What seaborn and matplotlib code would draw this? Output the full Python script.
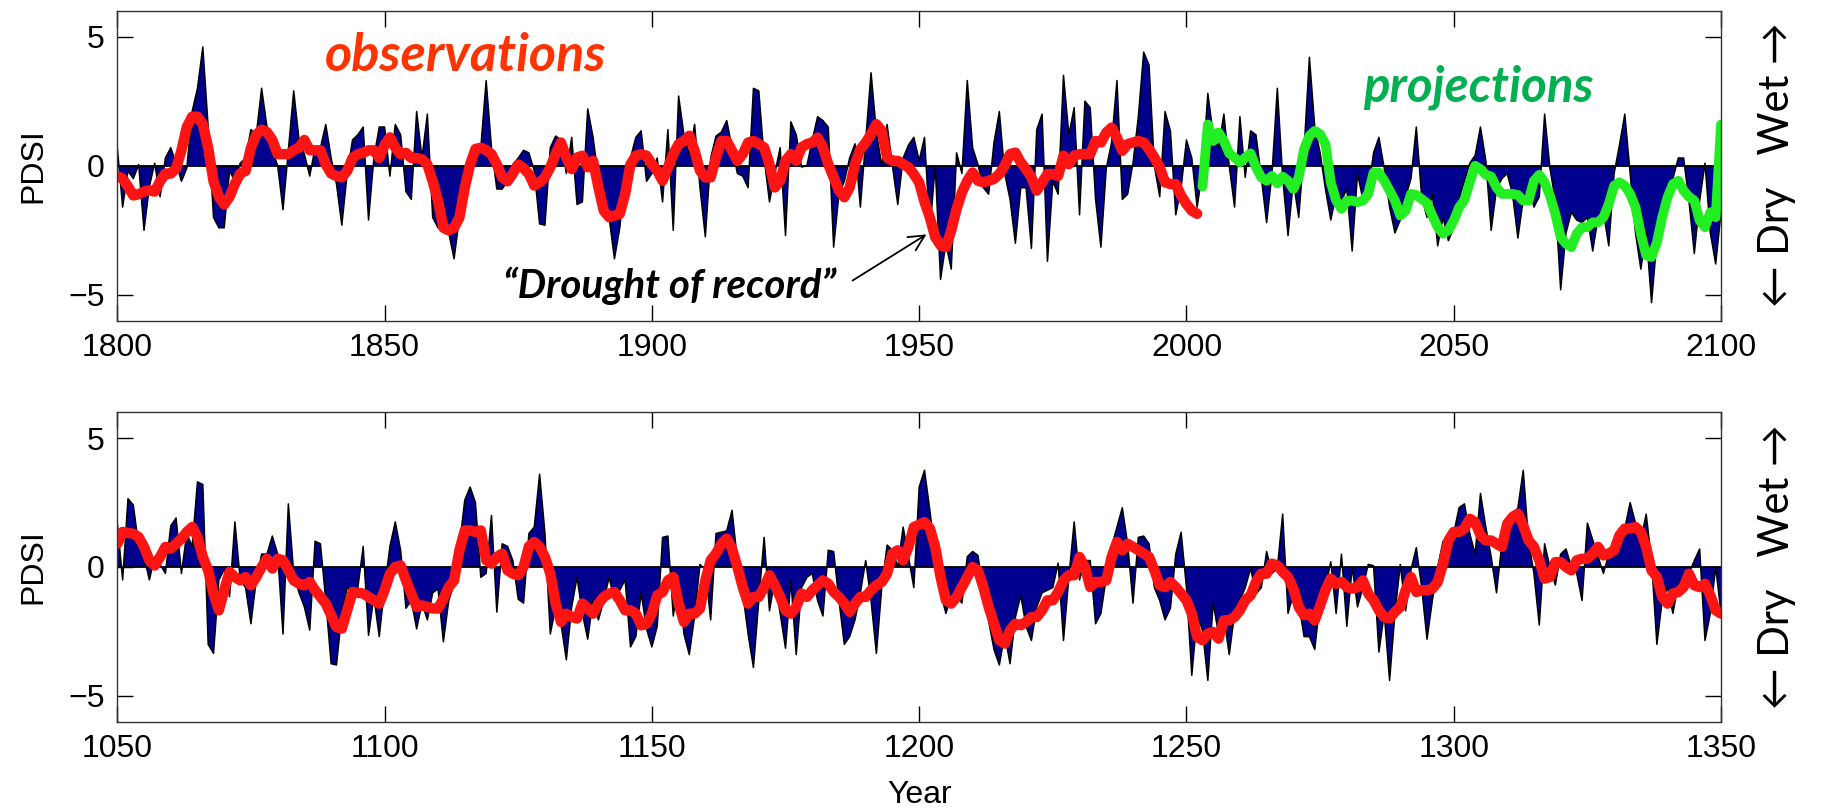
import matplotlib
matplotlib.use('Agg')
import matplotlib.pyplot as plt
import seaborn as sns
import numpy as np
import pandas as pd

# PDSI anual 1800-2100 (observado + projetado)
pdsi_recent = [
    0.7, -1.6, -0.2, -0.5, 0.05, -2.5, -0.8, 0.1, -1.2, 0.3,
    0.7, 0.1, -0.6, -0.1, 2.1, 3.0, 4.6, 1.5, -2.0, -2.4,
    -2.4, -0.2, -0.6, 0.1, 0.3, 1.4, 1.2, 3.0, 1.5, 0.6,
    0.0, -1.7, 0.6, 2.9, 1.0, 0.45, -0.4, 0.7, 0.7, 1.6,
    0.3, -0.7, -2.3, -0.3, 1.0, 1.2, 1.5, -2.1, 0.3, 1.5,
    1.5, -0.4, 1.6, 1.2, -1.0, -1.3, 2.1, 0.3, 2.0, -2.0,
    -2.4, -2.5, -2.6, -3.6, -2.0, -1.2, -0.2, 0.7, 0.7, 3.3,
    0.7, -0.9, -0.9, -0.6, 0.05, 0.3, 0.6, 0.5, -0.2, -2.25,
    -2.3, 0.7, 1.15, 1.0, -0.3, 1.1, -1.5, -1.4, 2.2, 1.1,
    -0.45, -1.2, -2.0, -3.6, -2.4, -0.3, 0.3, 1.1, 1.35, -0.6,
    -0.3, 0.3, -1.4, 1.4, -2.5, 2.7, 1.2, 0.45, 1.6, -0.85,
    -2.75, 0.3, 1.15, 1.3, 1.75, 0.7, -0.3, -0.4, -0.85, 3.0,
    2.9, 0.3, -1.4, -0.3, 0.7, -2.7, 1.7, 1.2, -0.05, 0.0,
    1.0, 1.9, 1.75, 1.5, -3.15, -1.1, -0.6, 0.3, 0.85, -1.6,
    1.0, 3.6, 1.3, 0.0, 1.6, 0.0, -1.5, 0.3, 0.8, 1.1,
    0.2, 1.1, -2.5, 0.0, -4.4, -3.0, -4.0, 0.5, -0.3, 3.3,
    0.7, 0.05, -0.85, -1.1, 0.9, 2.1, -0.3, -1.3, -3.0, -0.85,
    -0.85, -3.2, 1.4, 2.0, -3.7, -0.6, -1.1, 3.5, 1.2, 2.25,
    -1.9, 2.5, 2.25, -1.3, -3.15, -0.1, 0.9, 3.3, -1.3, -1.1,
    0.1, 1.9, 4.4, 3.9, 0.0, -1.2, 2.1, 1.35, -1.9, -0.85,
    1.0, 0.3, -1.6, -0.2, 2.8, 1.2, 0.7, 2.0, 0.0, -1.6,
    1.9, -0.45, 1.35, 1.2, -0.45, -2.2, -0.3, 3.0, -0.45, -2.7,
    -0.6, -2.0, 0.6, 4.2, 1.5, 0.5, -0.9, -2.1, -1.1, -1.35,
    -0.9, -3.3, -0.3, -1.3, -1.0, 0.5, 1.1, -0.1, -1.6, -2.6,
    -2.1, -1.2, -0.5, 1.5, -1.2, -2.0, -1.1, -3.1, -2.0, -2.9,
    -2.4, -1.3, -0.6, 0.1, 0.4, 1.5, 0.2, -2.5, -0.9, -0.5,
    -0.3, -1.1, -2.8, -1.3, -0.8, -1.6, -1.2, 2.0, -0.1, -1.35,
    -4.8, -2.6, -1.8, -2.1, -2.2, -2.0, -3.3, -2.0, -1.8, -3.1,
    -0.3, 0.8, 2.0, -0.3, -2.6, -4.0, -2.6, -5.3, -2.9, -1.9,
    -1.1, -0.5, 0.3, 0.3, -1.35, -3.4, -1.35, 0.1, -2.6, -3.8,
    -1.8,
]

# curva suavizada das observacoes 1800-2002
smooth_obs = [
    -0.4, -0.5, -0.8, -1.15, -1.1, -1.0, -0.95, -1.0, -0.6, -0.3,
    -0.3, -0.1, 0.6, 1.5, 1.9, 1.9, 1.6, 0.7, -0.6, -1.2,
    -1.5, -1.2, -0.7, -0.3, -0.2, 0.7, 1.2, 1.4, 1.3, 1.0,
    0.45, 0.45, 0.45, 0.6, 0.7, 1.0, 0.6, 0.6, 0.6, 0.05,
    -0.3, -0.4, -0.45, -0.2, 0.3, 0.45, 0.5, 0.6, 0.6, 0.3,
    0.8, 1.1, 0.7, 0.45, 0.5, 0.3, 0.3, 0.25, 0.05, -0.6,
    -1.35, -2.4, -2.5, -2.4, -2.0, -0.85, 0.05, 0.65, 0.7, 0.6,
    0.45, 0.05, -0.45, -0.6, -0.3, 0.05, -0.1, -0.32, -0.77, -0.64,
    -0.45, -0.06, 0.45, 0.9, 0.32, -0.13, 0.32, 0.39, -0.06, 0.19,
    -0.84, -1.74, -1.99, -1.93, -1.86, -1.09, 0.06, 0.39, 0.45, 0.39,
    0.06, -0.19, -0.58, -0.06, 0.45, 0.84, 0.96, 1.16, 0.58, -0.19,
    -0.45, -0.45, 0.32, 0.96, 0.96, 0.58, 0.19, 0.45, 0.9, 0.96,
    0.84, 0.71, 0.06, -0.84, -0.58, 0.19, 0.45, 0.19, 0.71, 0.84,
    0.9, 1.09, 0.71, 0.06, -0.45, -0.96, -1.22, -0.84, 0.06, 0.64,
    0.9, 1.22, 1.61, 1.35, 0.32, 0.19, 0.19, 0.06, -0.06, -0.32,
    -0.65, -1.4, -2.0, -2.76, -3.08, -3.15, -2.5, -1.67, -1.03, -0.58,
    -0.26, -0.58, -0.64, -0.58, -0.51, -0.32, 0.0, 0.45, 0.51, 0.13,
    -0.13, -0.45, -0.96, -0.64, -0.32, -0.32, -0.39, 0.39, 0.06, 0.39,
    0.45, 0.45, 0.45, 0.96, 0.9, 1.29, 1.48, 1.09, 0.58, 0.84,
    0.9, 0.96, 0.9, 0.64, 0.32, -0.06, -0.64, -0.71, -0.71, -1.16,
    -1.48, -1.74, -1.86,
]

# curva suavizada das projecoes 2003-2100
smooth_proj = [
    -0.8, 1.6, 0.96, 1.29, 0.96, 0.48, 0.32,
    0.13, 0.32, 0.48, -0.06, -0.45, -0.58, -0.39, -0.68, -0.42, -0.58,
    -0.9, -0.45, 0.64, 1.16, 1.35, 1.22, 0.84, -0.64, -1.35, -1.67,
    -1.35, -1.35, -1.41, -1.35, -1.09, -0.26, -0.26, -0.58, -0.96, -1.35,
    -1.93, -1.74, -1.09, -1.13, -1.29, -1.45, -1.93, -2.38, -2.63, -2.5,
    -2.12, -1.61, -1.32, -0.64, 0.0, -0.13, -0.35, -0.42, -0.84, -1.09,
    -1.09, -1.09, -1.13, -1.35, -1.35, -0.58, -0.35, -0.64, -1.16, -1.86,
    -2.76, -3.02, -3.15, -2.63, -2.38, -2.38, -2.19, -2.19, -1.99, -1.48,
    -0.77, -0.64, -0.77, -1.09, -1.61, -2.63, -3.47, -3.53, -2.96, -1.99,
    -1.22, -0.71, -0.58, -0.96, -1.2, -1.35, -2.12, -2.38, -1.8, -1.99,
    1.6,
]

# PDSI anual 1050-1350 (reconstrucao)
pdsi_medieval = [
    1.7, -0.5, 2.65, 2.4, 0.8, 0.4, -0.5, 0.4, 0.1, -0.25,
    1.6, 1.9, -0.25, 1.3, 0.8, 3.3, 3.2, -3.0, -3.35, -0.5,
    -0.1, -1.15, 1.75, -0.5, -0.8, -2.2, -0.5, 0.5, 0.5, 1.2,
    0.5, -2.6, 2.45, -0.25, -1.0, -1.55, -2.45, 1.0, 0.9, -1.3,
    -3.75, -3.8, -1.8, -0.8, -1.0, -0.8, 0.8, -2.65, -1.15, -2.7,
    -0.8, 0.8, 1.75, 0.65, -1.6, -1.3, -2.4, -1.4, -2.05, -1.0,
    -0.85, -2.9, -1.3, -0.65, 0.8, 2.6, 3.1, 2.5, -0.4, -0.25,
    2.0, -1.75, 0.9, 0.8, 0.25, -1.25, -1.4, 1.3, 1.55, 3.6,
    1.3, -2.6, -1.55, -2.2, -3.6, -1.55, -0.4, -1.8, -2.8, -1.3,
    -2.05, -1.3, -0.4, -1.3, -0.9, -0.5, -3.1, -2.7, -1.0, -2.4,
    -3.1, -2.3, 1.15, 1.2, -1.9, -0.5, -2.6, -3.4, -1.9, 0.1,
    -0.1, -2.05, 1.3, 1.35, 1.4, 2.2, 0.25, -1.0, -2.6, -3.9,
    -1.3, 1.15, -1.7, -0.5, -1.8, -3.15, -0.5, -3.4, -0.8, -0.4,
    -0.25, -1.3, -1.9, 0.65, 0.6, -1.3, -3.0, -2.7, -2.05, -1.0,
    0.25, -1.3, -3.35, -0.8, 0.85, 0.65, 0.0, 1.55, 0.4, -0.8,
    3.1, 3.75, 2.2, 0.5, -1.0, -1.8, -1.15, -1.15, -1.4, 0.4,
    0.6, 0.45, -1.0, -2.1, -3.2, -3.8, -2.6, -3.75, -1.95, -1.1,
    -2.3, -2.85, -1.55, -1.0, -0.9, -0.8, 0.15, -2.85, -0.4, 1.75,
    -0.5, 0.25, 0.25, -2.2, -1.8, -0.4, 0.8, 1.55, 2.3, 0.9,
    -1.4, 1.15, 1.2, 0.9, -0.8, -1.3, -2.05, -1.6, 0.5, 1.35,
    -0.8, -4.2, -1.9, -2.45, -4.4, -1.4, -2.6, -1.95, -3.4, -1.8,
    -1.3, -0.8, -0.05, -1.05, -0.8, 0.6, -0.25, -0.05, 2.05, -1.8,
    -1.05, -1.4, -2.7, -2.7, -3.2, -1.3, -0.8, 0.2, -1.8, 0.5,
    -2.3, 0.0, -1.55, -0.8, 0.1, 0.05, -3.3, -1.8, -4.4, -1.8,
    0.1, -1.7, -0.1, 0.75, -0.8, -2.8, -1.3, 0.0, 1.0, 0.75,
    1.3, 2.3, 2.45, 1.3, 0.5, 2.85, 1.55, 0.4, -1.0, 0.9,
    1.8, 1.95, 2.3, 3.75, 1.0, -0.25, -2.25, 0.9, 0.0, -0.7,
    0.5, 0.7, 0.0, -0.25, -1.3, 1.7, 1.05, 0.4, -0.25, 0.5,
    0.65, 1.05, 1.5, 2.5, 1.7, 1.05, 2.05, 0.25, -3.0, -1.3,
    -0.8, -1.8, -0.65, -0.5, -0.25, 0.25, 0.7, -2.85, -1.8, 0.0,
    -1.8,
]

smooth_medieval = [
    0.9, 1.36, 1.32, 1.29, 1.16, 0.78, 0.26, 0.06, 0.39, 0.78,
    0.71, 0.9, 1.1, 1.36, 1.55, 1.16, 0.39, -0.13, -1.03, -1.68,
    -0.9, -0.19, -0.39, -0.52, -0.39, -0.71, -0.39, 0.0, 0.32, -0.06,
    0.32, 0.26, -0.13, -0.52, -0.65, -0.71, -0.58, -0.9, -1.16, -1.42,
    -1.87, -2.33, -2.39, -1.68, -0.97, -1.0, -1.03, -1.16, -1.29, -1.42,
    -0.9, -0.26, 0.0, 0.06, -0.52, -1.03, -1.55, -1.49, -1.55, -1.61,
    -1.61, -1.23, -0.78, -0.52, 0.65, 1.42, 1.42, 1.36, 1.42, 0.26,
    0.13, 0.39, 0.52, -0.13, -0.26, -0.32, 0.0, 0.8, 0.97, 0.78,
    0.39, -0.26, -1.42, -2.13, -1.81, -1.94, -2.0, -1.42, -1.61, -1.81,
    -1.42, -1.16, -1.03, -0.97, -1.29, -1.68, -1.68, -1.81, -2.26, -2.2,
    -1.81, -1.1, -0.97, -0.52, -0.39, -1.42, -2.13, -1.81, -1.81, -1.61,
    -0.52, 0.26, 0.52, 0.9, 1.1, 0.71, 0.0, -0.78, -1.42, -1.16,
    -1.16, -0.78, -0.32, -0.71, -1.16, -1.68, -1.81, -1.55, -1.03, -1.16,
    -0.9, -0.71, -0.52, -0.65, -0.97, -1.16, -1.42, -1.74, -1.42, -1.16,
    -1.16, -0.9, -0.71, -0.58, -0.26, 0.52, 0.65, 0.26, 0.78, 1.55,
    1.64, 1.74, 1.5, 0.78, -0.39, -1.29, -1.42, -1.16, -0.78, -0.39,
    0.0, -0.13, -0.78, -1.55, -2.2, -2.84, -2.97, -2.45, -2.2, -2.26,
    -2.13, -1.94, -1.94, -1.68, -1.29, -1.29, -0.97, -0.52, -0.32, -0.32,
    0.39, 0.0, -0.78, -0.58, -0.58, -0.52, 0.39, 0.97, 0.65, 0.9,
    0.78, 0.65, 0.52, 0.39, -0.13, -0.71, -0.78, -0.58, -0.78, -1.03,
    -1.29, -1.81, -2.71, -2.84, -2.58, -2.52, -2.78, -2.07, -2.07, -1.94,
    -1.68, -1.29, -1.1, -0.58, -0.26, -0.26, 0.13, 0.06, -0.19, -0.39,
    -0.84, -1.55, -1.87, -1.81, -2.07, -1.5, -0.9, -0.45, -0.65, -0.58,
    -0.78, -0.84, -0.78, -0.52, -1.03, -1.29, -1.68, -1.94, -2.0, -1.74,
    -1.55, -0.9, -0.39, -0.97, -0.9, -0.9, -0.84, -0.58, 0.13, 1.03,
    1.36, 1.36, 1.49, 1.87, 1.74, 1.23, 1.03, 1.03, 0.9, 0.78,
    1.68, 1.94, 2.07, 1.61, 1.03, 0.78, 0.26, -0.45, -0.39, 0.19,
    0.19, 0.0, -0.13, 0.26, 0.32, 0.32, 0.52, 0.78, 0.45, 0.52,
    0.65, 1.23, 1.49, 1.49, 1.55, 1.36, 0.78, -0.13, -0.39, -1.16,
    -1.42, -1.03, -0.97, -0.78, -0.26, -0.71, -0.78, -0.65, -1.1, -1.68,
    -1.81,
]

x_ticks_top = [1800, 1850, 1900, 1950, 2000, 2050, 2100]
x_ticks_bottom = [1050, 1100, 1150, 1200, 1250, 1300, 1350]
y_ticks = [-5, 0, 5]

assert len(pdsi_recent) == 301 and len(pdsi_medieval) == 301
assert len(smooth_obs) == 203 and len(smooth_proj) == 98
assert len(smooth_medieval) == 301

df_recent = pd.DataFrame({'year': np.arange(1800, 2101), 'pdsi': pdsi_recent})
df_obs = pd.DataFrame({'year': np.arange(1800, 2003), 'pdsi': smooth_obs})
df_proj = pd.DataFrame({'year': np.arange(2003, 2101), 'pdsi': smooth_proj})
df_med = pd.DataFrame({'year': np.arange(1050, 1351), 'pdsi': pdsi_medieval})
df_med_s = pd.DataFrame({'year': np.arange(1050, 1351), 'pdsi': smooth_medieval})

sns.set_theme(style='ticks')
plt.rcParams['font.family'] = ['Liberation Sans', 'DejaVu Sans']
plt.rcParams['axes.unicode_minus'] = True
plt.rcParams['text.color'] = 'black'
plt.rcParams['axes.labelcolor'] = 'black'

fig = plt.figure(figsize=(18.27, 8.10), dpi=100)
ax1 = fig.add_axes([0.0642, 0.604, 0.8778, 0.3827])
ax2 = fig.add_axes([0.0642, 0.109, 0.8778, 0.382])

navy = '#00008f'
red = '#ff1414'
green = '#22ee22'


def draw_panel(ax, df, xlim, xticks):
    ax.fill_between(df['year'], df['pdsi'], 0, facecolor=navy, edgecolor='none')
    ax.plot(df['year'], df['pdsi'], color='black', lw=1.1)
    ax.axhline(0, color='black', lw=1.3)
    ax.set_xlim(xlim)
    ax.set_ylim(-6, 6)
    ax.set_xticks(xticks)
    ax.set_yticks(y_ticks)
    ax.tick_params(direction='in', length=11.5, width=1, top=True, right=True,
                   labelsize=23, pad=9, colors='black')
    for s in ax.spines.values():
        s.set_linewidth(1.0)
        s.set_color('#333333')


draw_panel(ax1, df_recent, (1800, 2100), x_ticks_top)
sns.lineplot(data=df_obs, x='year', y='pdsi', color=red, lw=7.5, ax=ax1,
             solid_capstyle='round')
sns.lineplot(data=df_proj, x='year', y='pdsi', color=green, lw=7.0, ax=ax1,
             solid_capstyle='round')
ax1.set_xlabel('')
ax1.set_ylabel('PDSI', fontsize=23, color='black')
ax1.yaxis.set_label_coords(-0.043, 0.5)

draw_panel(ax2, df_med, (1050, 1350), x_ticks_bottom)
sns.lineplot(data=df_med_s, x='year', y='pdsi', color=red, lw=7.5, ax=ax2,
             solid_capstyle='round')
ax2.set_ylabel('PDSI', fontsize=23, color='black')
ax2.yaxis.set_label_coords(-0.043, 0.5)
ax2.set_xlabel('Year', fontsize=23, color='black')
ax2.xaxis.set_label_coords(0.5, -0.19)

callout = ['Lato', 'DejaVu Sans']
ax1.text(1838.9, 3.67, 'observations', color='#ff3300', fontsize=37.5,
         fontweight='bold', fontstyle='italic', family=callout,
         ha='left', va='baseline')
ax1.text(2033.0, 2.47, 'projections', color='#00b050', fontsize=35.5,
         fontweight='bold', fontstyle='italic', family=callout,
         ha='left', va='baseline')
ax1.text(1934.4, -4.63, '\u201cDrought of record\u201d', color='black', fontsize=29,
         fontweight='bold', fontstyle='italic', family=callout,
         ha='right', va='center')
ax1.annotate('', xy=(1951.8, -2.6), xytext=(1937.1, -4.5),
             arrowprops=dict(arrowstyle='->', color='black', lw=1.3,
                             mutation_scale=28))

for yc in (1 - 165 / 810, 1 - 566.7 / 810):
    fig.text(0.9726, yc, '\u2190 Dry   Wet \u2192', rotation=90, fontsize=30,
             family=callout, ha='center', va='center', color='black')

fig.savefig('out.png', dpi=100)
